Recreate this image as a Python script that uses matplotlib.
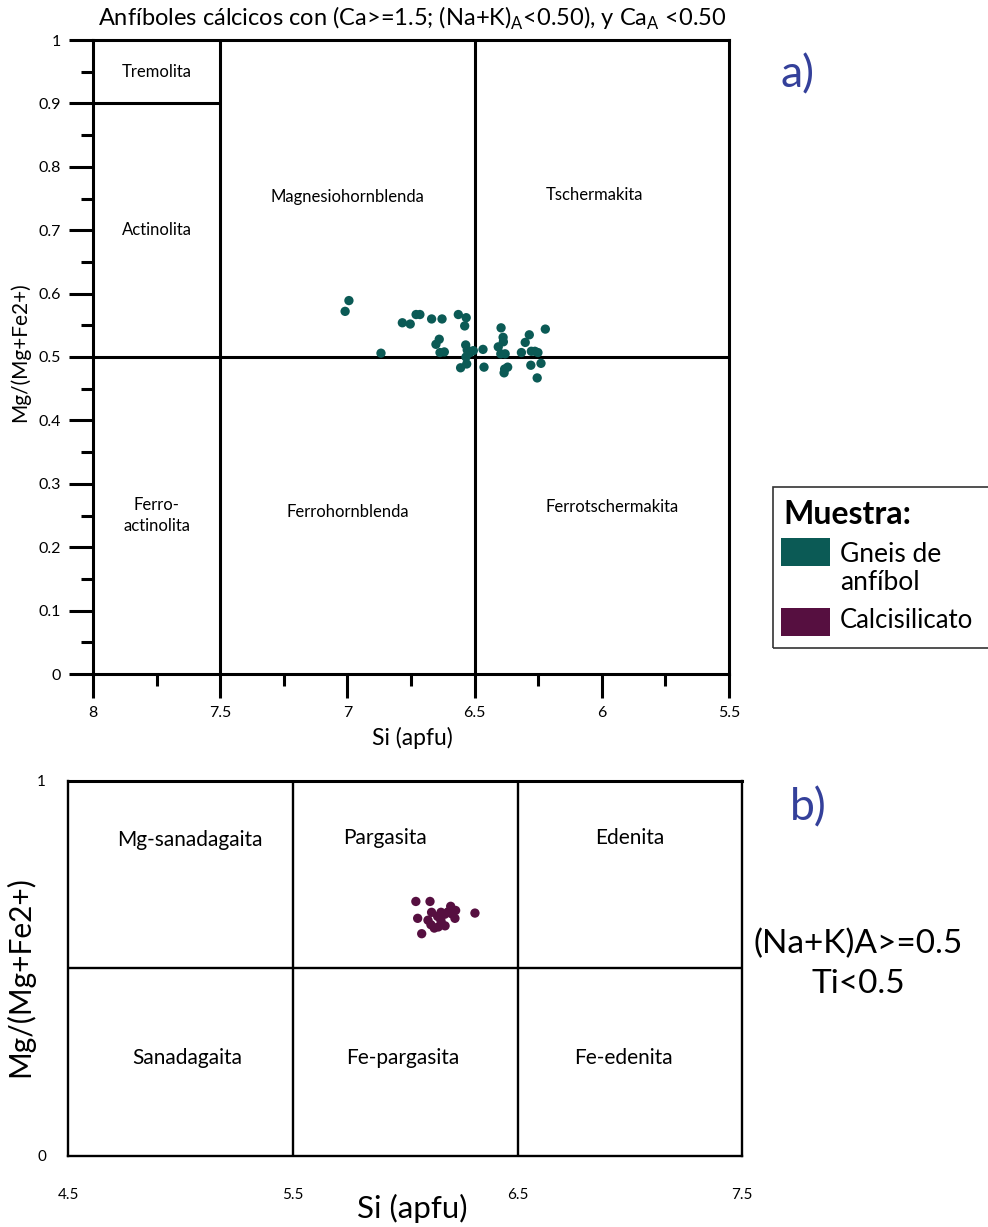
import matplotlib
matplotlib.use("Agg")
import matplotlib.pyplot as plt
from matplotlib.patches import Rectangle

plt.rcParams['font.family'] = ['Lato', 'DejaVu Sans']
plt.rcParams['mathtext.fontset'] = 'custom'
plt.rcParams['mathtext.rm'] = 'Lato'

W, H = 988, 1227

# Calcic amphiboles (gneiss): Si (apfu) and Mg/(Mg+Fe2+)
gneis_si = [6.994, 7.009, 6.868, 6.784, 6.753, 6.730, 6.715, 6.669, 6.628, 6.564,
            6.533, 6.539, 6.639, 6.652, 6.636, 6.619, 6.535, 6.529, 6.505, 6.518,
            6.467, 6.534, 6.555, 6.531, 6.463, 6.396, 6.388, 6.387, 6.407, 6.397,
            6.380, 6.382, 6.370, 6.384, 6.316, 6.301, 6.285, 6.222, 6.277, 6.263,
            6.251, 6.279, 6.239, 6.254]
gneis_mg = [0.589, 0.572, 0.506, 0.554, 0.552, 0.567, 0.567, 0.560, 0.560, 0.567,
            0.562, 0.549, 0.528, 0.520, 0.507, 0.508, 0.519, 0.511, 0.510, 0.507,
            0.512, 0.500, 0.483, 0.489, 0.484, 0.546, 0.531, 0.524, 0.516, 0.505,
            0.505, 0.481, 0.484, 0.475, 0.507, 0.523, 0.535, 0.544, 0.509, 0.509,
            0.507, 0.487, 0.490, 0.467]

# Calc-silicate amphiboles
calc_si = [6.047, 6.110, 6.202, 6.224, 6.310, 6.117, 6.159, 6.176, 6.055, 6.144,
           6.221, 6.114, 6.147, 6.177, 6.129, 6.073, 6.190, 6.159, 6.101, 6.207]
calc_mg = [0.678, 0.678, 0.665, 0.654, 0.647, 0.649, 0.649, 0.644, 0.633, 0.638,
           0.633, 0.616, 0.610, 0.613, 0.607, 0.592, 0.650, 0.626, 0.628, 0.645]

series_names = ["Gneis de\nanfíbol", "Calcisilicato"]
series_colors = ["#0b5a55", "#560f40"]

a_xticks = [8, 7.5, 7, 6.5, 6, 5.5]
a_xtick_labels = ["8", "7.5", "7", "6.5", "6", "5.5"]
a_xminor = [7.75, 7.25, 6.75, 6.25, 5.75]
a_yticks = [0, 0.1, 0.2, 0.3, 0.4, 0.5, 0.6, 0.7, 0.8, 0.9, 1]
a_ytick_labels = ["0", "0.1", "0.2", "0.3", "0.4", "0.5", "0.6", "0.7", "0.8", "0.9", "1"]
a_yminor = [0.05, 0.15, 0.25, 0.35, 0.45, 0.55, 0.65, 0.75, 0.85, 0.95]
b_xticks = [4.5, 5.5, 6.5, 7.5]
b_xtick_labels = ["4.5", "5.5", "6.5", "7.5"]
b_yticks = [0, 1]
b_ytick_labels = ["0", "1"]

# Field names of the classification diagrams
a_fields = [("Tremolita", 7.75, 0.95), ("Actinolita", 7.75, 0.70),
            ("Magnesiohornblenda", 7.0, 0.752), ("Tschermakita", 6.03, 0.755),
            ("Ferro-\nactinolita", 7.75, 0.25), ("Ferrohornblenda", 7.0, 0.255),
            ("Ferrotschermakita", 5.96, 0.263)]
b_fields = [("Mg-sanadagaita", 5.04, 0.842), ("Pargasita", 5.91, 0.847),
            ("Edenita", 7.0, 0.847), ("Sanadagaita", 5.03, 0.26),
            ("Fe-pargasita", 5.99, 0.26), ("Fe-edenita", 6.97, 0.26)]


def fpos(x, y):
    return x / W, 1 - y / H


fig = plt.figure(figsize=(W / 100, H / 100), dpi=100)

# ---------- a) ----------
axa = fig.add_axes([93 / W, 1 - 674 / H, (729 - 93) / W, (674 - 40) / H])
axa.set_xlim(8, 5.5)
axa.set_ylim(0, 1)
axa.set_xticks(a_xticks)
axa.set_xticklabels(a_xtick_labels)
axa.set_xticks(a_xminor, minor=True)
axa.set_yticks(a_yticks)
axa.set_yticklabels(a_ytick_labels)
axa.set_yticks(a_yminor, minor=True)
axa.tick_params(which='major', direction='out', length=17, width=2.2,
                labelsize=11.5, pad=6)
axa.tick_params(which='minor', direction='out', length=8.5, width=2.2)
for s in axa.spines.values():
    s.set_linewidth(2.2)
lw = 2.2
axa.axvline(7.5, color='k', lw=lw)
axa.axvline(6.5, color='k', lw=lw)
axa.axhline(0.5, color='k', lw=lw)
axa.hlines(0.9, 8, 7.5, color='k', lw=lw)
for name, x, y in a_fields:
    axa.text(x, y, name, ha='center', va='center', fontsize=12, linespacing=1.4)
axa.scatter(gneis_si, gneis_mg, s=45, color=series_colors[0], edgecolors='none', zorder=4)

fig.text(*fpos(412, 18),
         r"Anfíboles cálcicos con (Ca>=1.5; (Na+K)$_\mathregular{A}$<0.50), y Ca$_\mathregular{A}$ <0.50",
         ha='center', va='center', fontsize=17)
fig.text(*fpos(20, 352), "Mg/(Mg+Fe2+)", rotation=90, ha='center', va='center', fontsize=15)
fig.text(*fpos(412, 738), "Si (apfu)", ha='center', va='center', fontsize=16.5)
fig.text(*fpos(797, 75), "a)", ha='center', va='center', fontsize=32, color='#34409a')

# ---------- b) ----------
axb = fig.add_axes([68.3 / W, 1 - 1155.7 / H, 674 / W, 375 / H])
axb.set_xlim(4.5, 7.5)
axb.set_ylim(0, 1)
axb.set_xticks(b_xticks)
axb.set_xticklabels(b_xtick_labels)
axb.set_yticks(b_yticks)
axb.set_yticklabels(b_ytick_labels)
axb.tick_params(length=0, labelsize=11)
axb.tick_params(axis='x', pad=23)
axb.tick_params(axis='y', pad=16)
for s in axb.spines.values():
    s.set_linewidth(1.7)
axb.spines['top'].set_linewidth(2.2)
axb.axvline(5.5, color='k', lw=1.7)
axb.axvline(6.5, color='k', lw=1.7)
axb.axhline(0.5, color='k', lw=1.7)
for name, x, y in b_fields:
    axb.text(x, y, name, ha='center', va='center', fontsize=15)
axb.scatter(calc_si, calc_mg, s=45, color=series_colors[1], edgecolors='none', zorder=4)

fig.text(*fpos(20, 977), "Mg/(Mg+Fe2+)", rotation=90, ha='center', va='center', fontsize=21.5)
fig.text(*fpos(412, 1208), "Si (apfu)", ha='center', va='center', fontsize=22.5)
fig.text(*fpos(808, 808), "b)", ha='center', va='center', fontsize=32, color='#34409a')
fig.text(*fpos(858, 964), "(Na+K)A>=0.5\nTi<0.5", ha='center', va='center',
         fontsize=24, linespacing=1.4)

# ---------- legend ----------
fig.patches.append(Rectangle(fpos(773, 648), (W + 20 - 773) / W, 161 / H,
                             transform=fig.transFigure, fill=False,
                             edgecolor='#333333', lw=1.2))
fig.text(*fpos(783, 514), "Muestra:", ha='left', va='center', fontsize=23, fontweight='bold')
fig.patches.append(Rectangle(fpos(781, 566), 49 / W, 28 / H, transform=fig.transFigure,
                             facecolor=series_colors[0], edgecolor='none'))
fig.patches.append(Rectangle(fpos(781, 636), 49 / W, 28 / H, transform=fig.transFigure,
                             facecolor=series_colors[1], edgecolor='none'))
fig.text(*fpos(840, 568), series_names[0], ha='left', va='center', fontsize=19, linespacing=1.15)
fig.text(*fpos(840, 621), series_names[1], ha='left', va='center', fontsize=18.5)

fig.savefig("out.png", dpi=100)
